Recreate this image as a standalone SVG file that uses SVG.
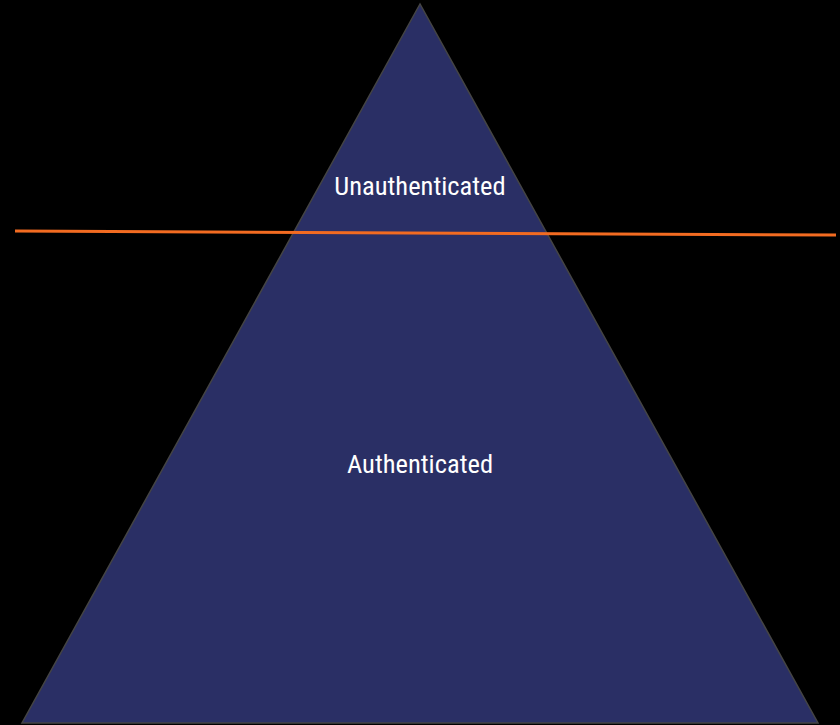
<svg xmlns="http://www.w3.org/2000/svg" width="840" height="725" viewBox="0 0 840 725">
<style>
.lbl{font-family:Roboto,"Liberation Sans",sans-serif;font-size:26.5px;fill:#ffffff;text-anchor:middle;font-stretch:condensed}
</style>
<rect width="840" height="725" fill="#000000"/>
<g id="pyramid">
<polygon points="420,4 22,723 818,723" fill="#2a2f65" stroke="#444444" stroke-width="1.5"/>
</g>
<g id="unauthenticated"><text class="lbl" x="420" y="195">Unauthenticated</text></g>
<g id="authenticated"><text class="lbl" x="420" y="473">Authenticated</text></g>
<g id="connectors">
<line x1="15" y1="231" x2="836" y2="235" stroke="#f26b21" stroke-width="3"/>
</g>
</svg>
